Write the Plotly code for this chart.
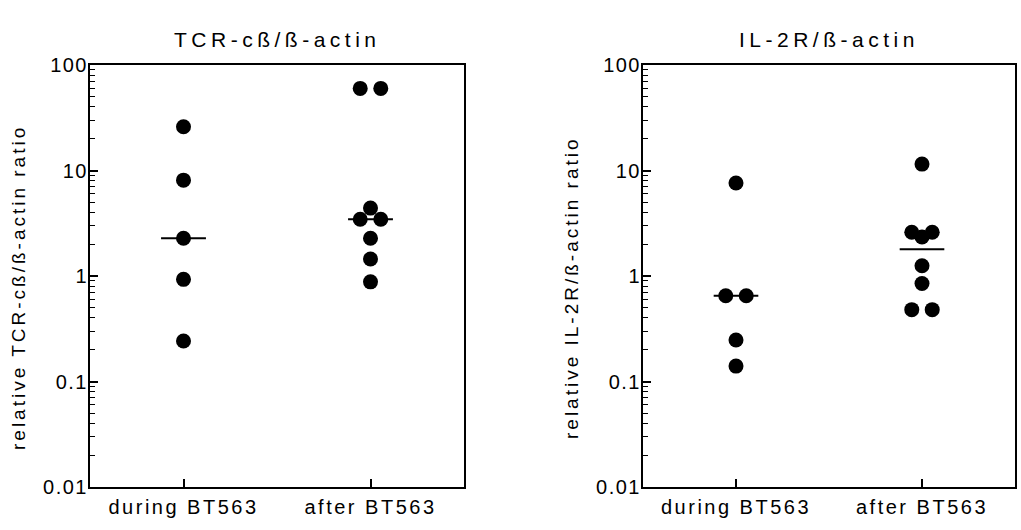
import numpy as np
import plotly.graph_objects as go

# ---------------- data ----------------
CATEGORIES = ["during BT563", "after BT563"]
TCR_DURING = [26, 8.1, 2.28, 0.93, 0.242]
TCR_AFTER = [60, 60, 4.4, 3.45, 3.45, 2.28, 1.45, 0.88]
IL2R_DURING = [7.6, 0.65, 0.65, 0.247, 0.14]
IL2R_AFTER = [11.5, 2.6, 2.6, 2.34, 1.25, 0.85, 0.48, 0.48]
Y_TICKS = [0.01, 0.1, 1, 10, 100]
Y_TICK_LABELS = ["0.01", "0.1", "1", "10", "100"]
TITLES = ["TCR-cß/ß-actin", "IL-2R/ß-actin"]
Y_LABELS = ["relative TCR-cß/ß-actin ratio", "relative IL-2R/ß-actin ratio"]

# ---------------- style ----------------
FONT = "Liberation Sans, Arial, sans-serif"
W, H = 1021, 530
PANELS = [(90, 464), (643, 1015)]  # pixel x extents of plot boxes
Y_TOP, Y_BOT = 65, 487
GAP = 0.055      # horizontal spread of tied points (category units)
HALF_MED = 0.12  # half width of median bar


def spaced(text, ls):
    return f'<span style="letter-spacing:{ls}px">{text}</span>'


def spread(values, center, gap=GAP):
    counts = {}
    for v in values:
        counts[v] = counts.get(v, 0) + 1
    seen = {}
    xs = []
    for v in values:
        n = counts[v]
        k = seen.get(v, 0)
        seen[v] = k + 1
        xs.append(center + (k - (n - 1) / 2) * 2 * gap)
    return xs


fig = go.Figure()
panels_data = [(TCR_DURING, TCR_AFTER), (IL2R_DURING, IL2R_AFTER)]

minor_vals = [k * 10.0 ** e for e in range(-2, 2) for k in range(2, 10)]
ydom = [1 - Y_BOT / H, 1 - Y_TOP / H]

for i, (during, after) in enumerate(panels_data):
    sfx = "" if i == 0 else str(i + 1)
    xa, ya = "x" + sfx, "y" + sfx
    x0, x1 = PANELS[i]
    for c, vals in enumerate([during, after]):
        fig.add_trace(go.Scatter(
            x=spread(vals, c), y=vals, mode="markers", xaxis=xa, yaxis=ya,
            marker=dict(size=15, color="black", line=dict(width=0)),
            showlegend=False, hoverinfo="y"))
        med = float(np.median(vals))
        fig.add_trace(go.Scatter(
            x=[c - HALF_MED, c + HALF_MED], y=[med, med], mode="lines",
            xaxis=xa, yaxis=ya, line=dict(color="black", width=2),
            showlegend=False, hoverinfo="skip"))

    fig.layout["xaxis" + sfx] = dict(
        domain=[x0 / W, x1 / W], anchor=ya, range=[-0.5, 1.5],
        tickmode="array", tickvals=[0, 1],
        ticktext=[spaced(t, 2.5) for t in CATEGORIES],
        ticks="inside", ticklen=8, tickwidth=1.5, tickcolor="black",
        showline=True, linewidth=2, linecolor="black", mirror=True,
        showgrid=False, zeroline=False, ticklabelstandoff=1, automargin=False,
        tickfont=dict(family=FONT, size=20, color="black"))
    fig.layout["yaxis" + sfx] = dict(
        domain=ydom, anchor=xa, type="log", range=[-2, 2],
        tickmode="array", tickvals=Y_TICKS,
        ticktext=[spaced(t, 1.5) for t in Y_TICK_LABELS],
        ticks="inside", ticklen=8, tickwidth=1.5, tickcolor="black",
        minor=dict(tickmode="array", tickvals=minor_vals, ticks="inside",
                   ticklen=5, tickwidth=1, tickcolor="black", showgrid=False),
        showline=True, linewidth=2, linecolor="black", mirror=True,
        showgrid=False, zeroline=False, ticklabelstandoff=-4, automargin=False,
        tickfont=dict(family=FONT, size=20, color="black"))

    fig.add_annotation(
        text=spaced(TITLES[i], 4.5), xref="paper", yref="paper",
        x=(x0 + x1) / 2 / W, y=1 - 40 / H, xanchor="center", yanchor="middle",
        showarrow=False, font=dict(family=FONT, size=21, color="black"))
    fig.add_annotation(
        text=spaced(Y_LABELS[i], 3), xref="paper", yref="paper",
        x=(x0 - 72) / W, y=1 - 288 / H, xanchor="center", yanchor="middle",
        textangle=-90, showarrow=False,
        font=dict(family=FONT, size=19, color="black"))

fig.update_layout(
    width=W, height=H, margin=dict(l=0, r=0, t=0, b=0, autoexpand=False),
    paper_bgcolor="white", plot_bgcolor="white",
    font=dict(family=FONT, color="black"))

fig.write_html("out.html")
